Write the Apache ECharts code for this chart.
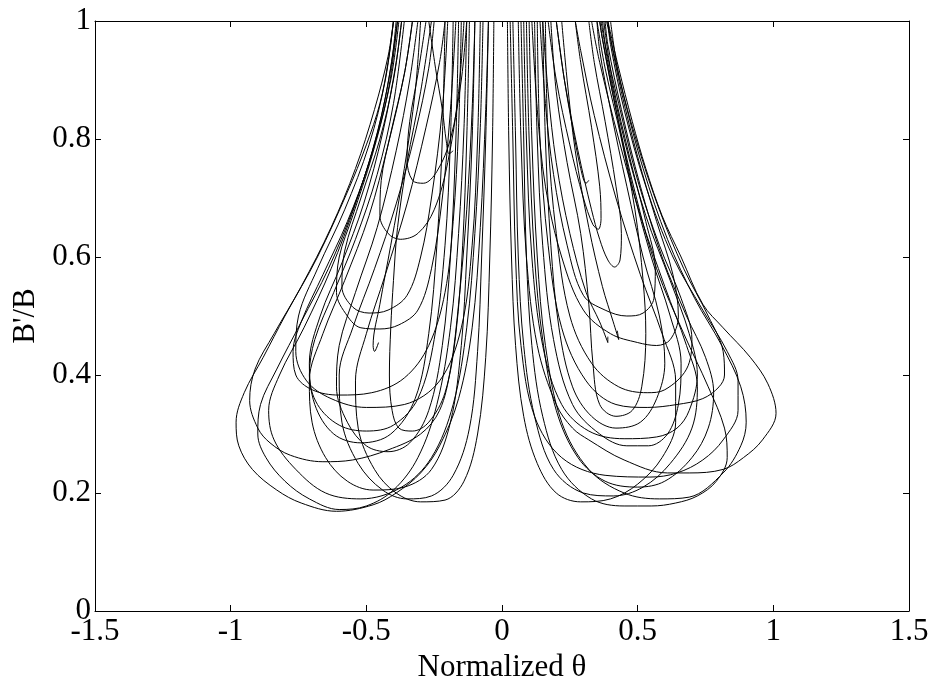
<!DOCTYPE html>
<html>
<head>
<meta charset="utf-8">
<script src="https://cdn.jsdelivr.net/npm/echarts@6/dist/echarts.min.js"></script>
<style>
html,body{margin:0;padding:0;background:#fff;}
#chart{width:933px;height:681px;}
</style>
</head>
<body>
<div id="chart"></div>
<script>
// Axis ticks
const xTicks = [-1.5, -1, -0.5, 0, 0.5, 1, 1.5];
const yTicks = [0, 0.2, 0.4, 0.6, 0.8, 1];
const xName = 'Normalized θ';
const yName = "B'/B";

// Left-side trajectories [theta, B'/B]
const L1 = [[-0.05,1],[-0.06,0.85],[-0.08,0.65],[-0.11,0.48],[-0.16,0.36],[-0.23,0.28],[-0.30,0.234],[-0.39,0.20],[-0.475,0.18],[-0.61,0.169],[-0.74,0.183],[-0.83,0.205],[-0.92,0.24],[-0.97,0.28],[-0.98,0.32],[-0.95,0.37],[-0.88,0.43],[-0.80,0.50],[-0.68,0.60],[-0.57,0.71],[-0.50,0.79],[-0.45,0.86],[-0.42,0.93],[-0.40,1.0]];
const L2 = [[-0.10,1],[-0.11,0.85],[-0.13,0.68],[-0.16,0.52],[-0.19,0.41],[-0.23,0.34],[-0.30,0.30],[-0.42,0.273],[-0.55,0.256],[-0.66,0.253],[-0.78,0.264],[-0.855,0.285],[-0.90,0.31],[-0.93,0.357],[-0.91,0.41],[-0.84,0.47],[-0.74,0.55],[-0.63,0.65],[-0.54,0.75],[-0.47,0.85],[-0.42,0.94],[-0.40,1.0]];
const L3 = [[-0.13,1],[-0.14,0.82],[-0.16,0.64],[-0.19,0.48],[-0.24,0.35],[-0.31,0.26],[-0.40,0.205],[-0.50,0.178],[-0.60,0.172],[-0.71,0.19],[-0.80,0.22],[-0.87,0.26],[-0.90,0.30],[-0.89,0.35],[-0.83,0.41],[-0.74,0.49],[-0.64,0.58],[-0.55,0.68],[-0.47,0.79],[-0.41,0.90],[-0.38,1.0]];
const L4 = [[-0.15,1],[-0.16,0.82],[-0.18,0.66],[-0.21,0.54],[-0.27,0.45],[-0.36,0.395],[-0.48,0.37],[-0.60,0.366],[-0.70,0.375],[-0.76,0.40],[-0.77,0.44],[-0.74,0.49],[-0.66,0.57],[-0.57,0.66],[-0.49,0.76],[-0.43,0.87],[-0.385,1.0]];
const L5 = [[-0.18,1],[-0.19,0.8],[-0.21,0.62],[-0.25,0.46],[-0.31,0.36],[-0.40,0.315],[-0.50,0.305],[-0.60,0.315],[-0.68,0.35],[-0.71,0.40],[-0.69,0.46],[-0.62,0.54],[-0.54,0.63],[-0.46,0.74],[-0.40,0.86],[-0.36,1.0]];
const L6 = [[-0.10,1],[-0.11,0.8],[-0.13,0.6],[-0.15,0.45],[-0.19,0.32],[-0.26,0.24],[-0.36,0.21],[-0.475,0.205],[-0.57,0.22],[-0.65,0.26],[-0.70,0.32],[-0.71,0.39],[-0.66,0.47],[-0.58,0.56],[-0.49,0.67],[-0.42,0.79],[-0.36,0.91],[-0.33,1.0]];
const L7 = [[-0.05,1],[-0.06,0.8],[-0.075,0.6],[-0.09,0.44],[-0.12,0.31],[-0.18,0.23],[-0.26,0.195],[-0.35,0.19],[-0.44,0.205],[-0.53,0.25],[-0.59,0.32],[-0.60,0.40],[-0.55,0.48],[-0.47,0.58],[-0.39,0.69],[-0.32,0.81],[-0.27,0.92],[-0.25,1.0]];
const L8 = [[-0.03,1],[-0.035,0.8],[-0.045,0.6],[-0.06,0.43],[-0.09,0.30],[-0.14,0.22],[-0.21,0.188],[-0.30,0.185],[-0.39,0.20],[-0.47,0.24],[-0.53,0.31],[-0.54,0.39],[-0.50,0.47],[-0.43,0.57],[-0.35,0.69],[-0.28,0.82],[-0.23,0.93],[-0.21,1.0]];
const L9 = [[-0.12,1],[-0.13,0.8],[-0.145,0.62],[-0.17,0.47],[-0.21,0.37],[-0.27,0.32],[-0.33,0.305],[-0.38,0.31],[-0.405,0.34],[-0.415,0.40],[-0.41,0.48],[-0.40,0.56],[-0.385,0.65],[-0.35,0.76],[-0.30,0.88],[-0.26,1.0]];
const L10 = [[-0.20,1],[-0.22,0.85],[-0.26,0.70],[-0.30,0.60],[-0.35,0.535],[-0.42,0.51],[-0.49,0.505],[-0.55,0.515],[-0.59,0.55],[-0.58,0.61],[-0.52,0.70],[-0.45,0.80],[-0.40,0.90],[-0.37,1.0]];
const L11 = [[-0.17,1],[-0.19,0.85],[-0.22,0.70],[-0.26,0.58],[-0.31,0.51],[-0.38,0.485],[-0.45,0.478],[-0.52,0.48],[-0.57,0.50],[-0.61,0.54],[-0.60,0.60],[-0.55,0.67],[-0.48,0.77],[-0.42,0.88],[-0.385,1.0]];
const L12 = [[-0.14,1],[-0.16,0.88],[-0.20,0.76],[-0.25,0.68],[-0.31,0.64],[-0.375,0.63],[-0.42,0.64],[-0.45,0.67],[-0.445,0.73],[-0.41,0.81],[-0.36,0.91],[-0.33,1.0]];
const L13 = [[-0.13,1],[-0.15,0.90],[-0.19,0.80],[-0.24,0.745],[-0.29,0.725],[-0.33,0.73],[-0.35,0.765],[-0.34,0.83],[-0.31,0.91],[-0.28,1.0]];
const L14 = [[-0.27,1],[-0.245,0.92],[-0.22,0.85],[-0.205,0.795],[-0.195,0.775],[-0.18,0.78]];
const L15 = [[-0.30,1],[-0.32,0.88],[-0.36,0.75],[-0.41,0.62],[-0.45,0.52],[-0.475,0.45],[-0.47,0.44],[-0.455,0.455]];
const L16 = [[-0.08,1],[-0.09,0.8],[-0.11,0.62],[-0.15,0.48],[-0.23,0.39],[-0.36,0.35],[-0.50,0.345],[-0.63,0.36],[-0.72,0.39],[-0.76,0.44],[-0.75,0.50],[-0.68,0.58],[-0.58,0.68],[-0.49,0.79],[-0.43,0.90],[-0.40,1.0]];
const L17 = [[-0.21,1],[-0.22,0.8],[-0.24,0.62],[-0.27,0.47],[-0.32,0.36],[-0.41,0.30],[-0.52,0.285],[-0.62,0.30],[-0.69,0.35],[-0.71,0.42],[-0.67,0.50],[-0.59,0.59],[-0.51,0.69],[-0.44,0.81],[-0.39,0.93],[-0.37,1.0]];
const L18 = [[-0.07,1],[-0.08,0.82],[-0.10,0.64],[-0.13,0.48],[-0.18,0.35],[-0.26,0.26],[-0.37,0.21],[-0.52,0.19],[-0.65,0.20],[-0.76,0.24],[-0.84,0.29],[-0.86,0.34],[-0.82,0.40],[-0.73,0.48],[-0.63,0.58],[-0.54,0.69],[-0.46,0.81],[-0.41,0.92],[-0.39,1.0]];
const L19 = [[-0.16,1],[-0.17,0.8],[-0.19,0.6],[-0.22,0.45],[-0.27,0.34],[-0.34,0.285],[-0.42,0.27],[-0.50,0.28],[-0.57,0.32],[-0.61,0.38],[-0.60,0.45],[-0.54,0.54],[-0.46,0.65],[-0.39,0.78],[-0.34,0.90],[-0.31,1.0]];

// Right-side trajectories [theta, B'/B]
const R1 = [[0.06,1],[0.07,0.8],[0.09,0.6],[0.13,0.45],[0.20,0.35],[0.26,0.31],[0.32,0.29],[0.45,0.256],[0.61,0.234],[0.69,0.234],[0.815,0.24],[0.89,0.26],[0.96,0.29],[1.01,0.335],[0.98,0.385],[0.915,0.43],[0.815,0.48],[0.74,0.52],[0.66,0.60],[0.59,0.67],[0.53,0.75],[0.48,0.83],[0.43,0.92],[0.39,1.0]];
const R2 = [[0.10,1],[0.11,0.8],[0.13,0.6],[0.16,0.45],[0.22,0.32],[0.32,0.24],[0.45,0.20],[0.58,0.19],[0.69,0.193],[0.815,0.234],[0.88,0.28],[0.90,0.32],[0.88,0.38],[0.81,0.45],[0.71,0.53],[0.61,0.63],[0.52,0.75],[0.45,0.87],[0.40,0.97],[0.385,1.0]];
const R3 = [[0.13,1],[0.14,0.8],[0.17,0.62],[0.22,0.48],[0.31,0.39],[0.42,0.35],[0.535,0.345],[0.645,0.35],[0.74,0.36],[0.80,0.38],[0.82,0.40],[0.815,0.44],[0.76,0.50],[0.67,0.58],[0.58,0.68],[0.50,0.79],[0.43,0.91],[0.40,1.0]];
const R4 = [[0.16,1],[0.17,0.8],[0.20,0.64],[0.25,0.50],[0.33,0.42],[0.43,0.38],[0.535,0.37],[0.60,0.375],[0.68,0.41],[0.70,0.46],[0.66,0.53],[0.58,0.62],[0.50,0.73],[0.43,0.86],[0.38,0.96],[0.365,1.0]];
const R5 = [[0.08,1],[0.09,0.8],[0.11,0.6],[0.15,0.45],[0.22,0.35],[0.32,0.305],[0.45,0.292],[0.57,0.295],[0.645,0.31],[0.69,0.34],[0.72,0.40],[0.69,0.47],[0.62,0.56],[0.53,0.67],[0.45,0.80],[0.39,0.93],[0.37,1.0]];
const R6 = [[0.03,1],[0.04,0.8],[0.05,0.6],[0.07,0.45],[0.12,0.33],[0.22,0.26],[0.38,0.23],[0.545,0.227],[0.645,0.234],[0.74,0.256],[0.815,0.29],[0.87,0.34],[0.87,0.39],[0.83,0.44],[0.74,0.51],[0.63,0.60],[0.53,0.72],[0.45,0.85],[0.40,0.96],[0.39,1.0]];
const R7 = [[0.02,1],[0.025,0.8],[0.035,0.6],[0.05,0.45],[0.08,0.33],[0.13,0.25],[0.20,0.20],[0.29,0.185],[0.40,0.19],[0.50,0.215],[0.59,0.26],[0.64,0.32],[0.64,0.39],[0.59,0.47],[0.51,0.57],[0.42,0.70],[0.34,0.84],[0.29,0.95],[0.27,1.0]];
const R8 = [[0.04,1],[0.05,0.8],[0.06,0.6],[0.08,0.45],[0.12,0.33],[0.19,0.24],[0.30,0.20],[0.41,0.195],[0.52,0.21],[0.62,0.25],[0.70,0.31],[0.72,0.38],[0.68,0.45],[0.60,0.55],[0.51,0.67],[0.43,0.80],[0.36,0.93],[0.33,1.0]];
const R9 = [[0.18,1],[0.20,0.88],[0.24,0.76],[0.29,0.64],[0.32,0.52],[0.335,0.42],[0.36,0.35],[0.42,0.33],[0.48,0.34],[0.515,0.38],[0.53,0.47],[0.52,0.56],[0.49,0.68],[0.44,0.80],[0.38,0.92],[0.35,1.0]];
const R10 = [[0.14,1],[0.16,0.86],[0.19,0.74],[0.24,0.62],[0.30,0.535],[0.38,0.51],[0.46,0.50],[0.52,0.505],[0.56,0.53],[0.565,0.58],[0.53,0.66],[0.47,0.77],[0.41,0.89],[0.375,1.0]];
const R11 = [[0.11,1],[0.13,0.85],[0.16,0.72],[0.22,0.60],[0.30,0.51],[0.40,0.47],[0.50,0.455],[0.57,0.45],[0.62,0.46],[0.65,0.50],[0.63,0.57],[0.57,0.66],[0.50,0.77],[0.44,0.88],[0.40,0.97],[0.39,1.0]];
const R12 = [[0.20,1],[0.23,0.90],[0.28,0.78],[0.33,0.68],[0.36,0.63],[0.39,0.595],[0.415,0.583],[0.435,0.595],[0.44,0.64],[0.42,0.72],[0.38,0.83],[0.34,0.93],[0.32,1.0]];
const R13 = [[0.17,1],[0.20,0.90],[0.25,0.79],[0.30,0.70],[0.335,0.655],[0.355,0.647],[0.365,0.665],[0.36,0.72],[0.33,0.82],[0.29,0.93],[0.27,1.0]];
const R14 = [[0.20,1],[0.23,0.90],[0.26,0.82],[0.29,0.75],[0.31,0.725],[0.32,0.73]];
const R15 = [[0.15,1],[0.17,0.88],[0.20,0.76],[0.25,0.64],[0.31,0.54],[0.36,0.49],[0.39,0.455],[0.39,0.465]];
const R16 = [[0.22,1],[0.24,0.90],[0.27,0.78],[0.32,0.65],[0.37,0.55],[0.41,0.49],[0.43,0.46],[0.425,0.475]];
const R17 = [[0.12,1],[0.13,0.8],[0.15,0.62],[0.19,0.46],[0.26,0.35],[0.36,0.30],[0.46,0.28],[0.54,0.28],[0.61,0.30],[0.65,0.35],[0.66,0.42],[0.62,0.50],[0.55,0.60],[0.48,0.72],[0.42,0.85],[0.37,0.97],[0.36,1.0]];
const R18 = [[0.07,1],[0.08,0.8],[0.09,0.6],[0.11,0.45],[0.15,0.33],[0.22,0.24],[0.33,0.19],[0.45,0.178],[0.55,0.178],[0.64,0.183],[0.72,0.195],[0.79,0.22],[0.83,0.26],[0.82,0.31],[0.76,0.38],[0.67,0.47],[0.57,0.58],[0.49,0.71],[0.42,0.85],[0.37,0.97],[0.36,1.0]];
const R19 = [[0.09,1],[0.10,0.8],[0.12,0.6],[0.15,0.46],[0.20,0.34],[0.28,0.26],[0.38,0.22],[0.50,0.21],[0.60,0.22],[0.70,0.26],[0.76,0.31],[0.78,0.37],[0.75,0.43],[0.68,0.50],[0.59,0.60],[0.51,0.72],[0.44,0.85],[0.39,0.96],[0.38,1.0]];
const R20 = [[0.15,1],[0.16,0.8],[0.18,0.62],[0.21,0.48],[0.26,0.38],[0.33,0.33],[0.42,0.31],[0.51,0.32],[0.57,0.36],[0.60,0.42],[0.58,0.50],[0.52,0.60],[0.46,0.72],[0.40,0.85],[0.36,0.95],[0.35,1.0]];

const curves = [L1,L2,L3,L4,L5,L6,L7,L8,L9,L10,L11,L12,L13,L14,L15,L16,L17,L18,L19,
                R1,R2,R3,R4,R5,R6,R7,R8,R9,R10,R11,R12,R13,R14,R15,R16,R17,R18,R19,R20];

const FONT = 'Liberation Serif';
const FS = 31;

const chart = echarts.init(document.getElementById('chart'), null, {renderer: 'canvas'});

const axisLine = {show: true, onZero: false, lineStyle: {color: '#000', width: 1}};
const tick = {show: true, inside: true, length: 6, lineStyle: {color: '#000', width: 1}};

const option = {
  animation: false,
  backgroundColor: '#fff',
  grid: {left: 95, top: 21, right: 24, bottom: 70, containLabel: false, outerBoundsMode: 'none'},
  xAxis: [
    {
      type: 'value', min: xTicks[0], max: xTicks[xTicks.length - 1], interval: 0.5,
      position: 'bottom',
      name: xName, nameLocation: 'middle', nameGap: 33,
      nameTextStyle: {fontFamily: FONT, fontSize: FS, color: '#000'},
      axisLine: axisLine, axisTick: tick,
      axisLabel: {fontFamily: FONT, fontSize: FS, color: '#000', margin: 5},
      splitLine: {show: false}
    },
    {
      type: 'value', min: xTicks[0], max: xTicks[xTicks.length - 1], interval: 0.5,
      position: 'top',
      axisLine: axisLine, axisTick: tick,
      axisLabel: {show: false}, splitLine: {show: false}
    }
  ],
  yAxis: [
    {
      type: 'value', min: yTicks[0], max: yTicks[yTicks.length - 1], interval: 0.2,
      position: 'left',
      name: yName, nameLocation: 'middle', nameGap: 54, nameRotate: 90,
      nameTextStyle: {fontFamily: FONT, fontSize: FS, color: '#000'},
      axisLine: axisLine, axisTick: tick,
      axisLabel: {fontFamily: FONT, fontSize: FS, color: '#000', margin: 4},
      splitLine: {show: false}
    },
    {
      type: 'value', min: yTicks[0], max: yTicks[yTicks.length - 1], interval: 0.2,
      position: 'right',
      axisLine: axisLine, axisTick: tick,
      axisLabel: {show: false}, splitLine: {show: false}
    }
  ],
  series: curves.map(function (c) {
    return {
      type: 'line',
      xAxisIndex: 0, yAxisIndex: 0,
      data: c,
      showSymbol: false,
      smooth: 0.35,
      clip: true,
      lineStyle: {color: '#000', width: 1},
      emphasis: {disabled: true},
      silent: true
    };
  })
};

chart.setOption(option);
</script>
</body>
</html>
